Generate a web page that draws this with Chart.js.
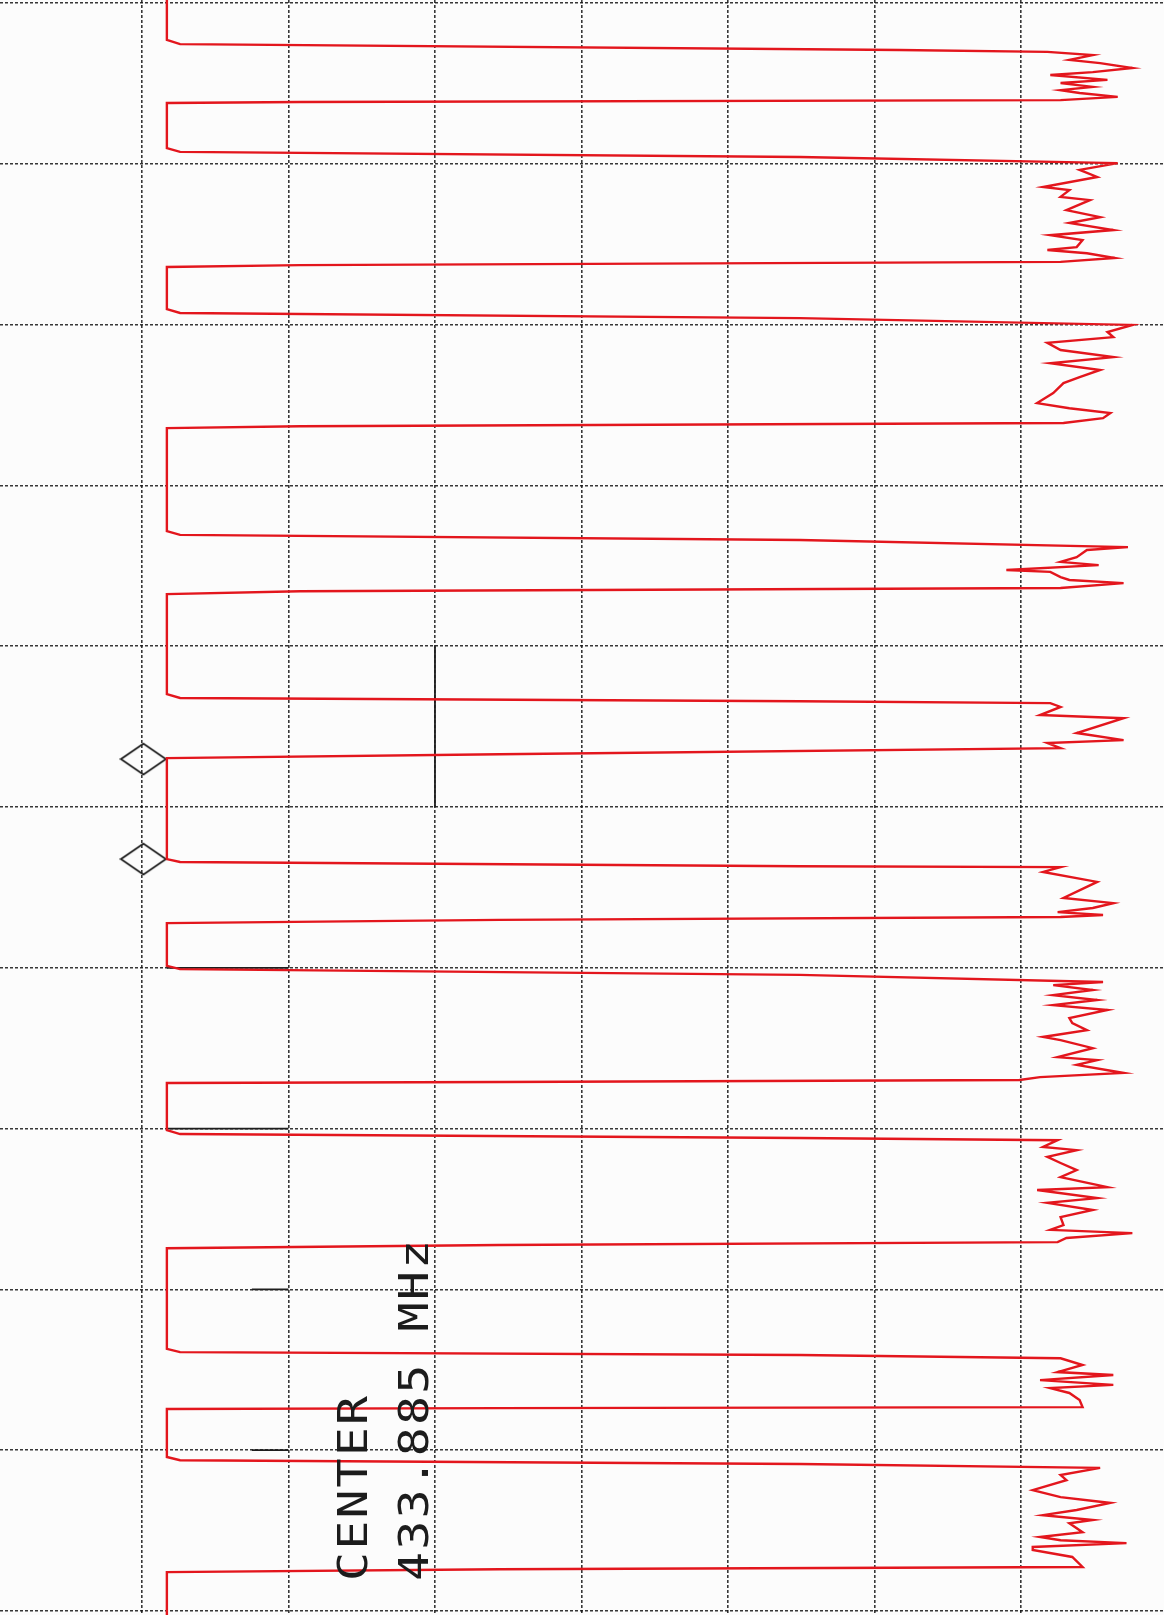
<!DOCTYPE html>
<html>
<head>
<meta charset="utf-8">
<script src="https://cdn.jsdelivr.net/npm/chart.js@4.4.1/dist/chart.umd.min.js"></script>
<style>
html,body{margin:0;padding:0;background:#fcfcfc;}
#wrap{width:1164px;height:1615px;position:relative;}
</style>
</head>
<body>
<div id="wrap"><canvas id="c"></canvas></div>
<script>
// Zero-span trace: time (ms, 50 ms/div) and level (dB, 10 dB/div)
const traceTime = [
  -1, 11.5, 12.8, 14.6, 15.2,
  16.2, 17.7, 18.7, 20.2, 21.5, 22.4, 23.9, 24.9, 26.1, 27.1, 28.0, 29.2, 30.2,
  30.8, 31.1, 45.1, 46.3, 47.9, 49.8,
  51.9, 54.1, 57.2, 58.2, 60.3, 61.3, 64.4, 66.6, 68.4, 70.6, 72.2, 73.7, 75.9, 76.8, 77.8, 79.3, 80.5,
  81.5, 82.1, 95.2, 96.4, 98.0, 100.1,
  102.3, 103.9, 105.7, 107.9, 110.1, 112.0, 114.1, 116.3, 118.2, 121.3, 124.4, 126.0, 127.5, 129.1, 130.6,
  131.6, 132.2, 164.2, 165.4, 167.0, 169.2,
  170.1, 172.3, 173.8, 174.8, 176.3, 176.9, 178.5, 179.4, 180.4, 181.9,
  182.9, 183.8, 214.9, 216.1, 217.1, 217.7,
  218.9, 221.4, 222.4, 227.0, 229.2, 230.1, 231.7,
  233.6, 234.8, 266.2, 267.1, 268.4, 268.7,
  270.2, 273.3, 278.3, 279.9, 281.4, 282.7, 283.6, 284.2,
  285.1, 286.1, 299.4, 300.4, 302.2, 304.4,
  305.4, 306.9, 308.5, 310.0, 311.6, 313.1, 315.6, 317.2, 319.4, 321.5, 322.5, 325.0, 327.8, 328.7, 330.2, 332.7, 334.0,
  334.9, 335.5, 335.8, 350.5, 351.7, 352.9, 353.6,
  355.7, 356.7, 358.8, 360.7, 362.9, 365.1, 368.2, 369.1, 371.6, 373.1, 375.3, 377.5, 380.0, 381.5, 382.5, 384.0, 385.3,
  386.2, 387.2, 418.5, 419.5, 420.4, 421.4,
  423.5, 425.7, 426.6, 428.2, 429.7, 430.7, 432.2, 434.4, 436.6,
  436.9, 437.2, 452.1, 453.1, 454.3, 455.5,
  457.7, 459.3, 462.4, 464.6, 466.4, 468.6, 470.2, 471.7, 472.7, 475.5, 477.0, 478.0, 478.9, 480.1, 481.0, 483.2, 486.3,
  487.0, 487.9, 502
];
const traceLevel = [
  -1.7, -1.7, -2.6, -51.7, -61.8,
  -64.9, -63.3, -65.4, -67.6, -64.9, -62.0, -65.9, -62.7, -64.9, -62.7, -64.0, -66.6, -62.7,
  -10.8, -1.7, -1.7, -2.6, -44.9, -66.6,
  -64.0, -65.2, -61.5, -63.3, -62.7, -64.7, -63.1, -65.4, -63.3, -66.3, -62.0, -64.2, -63.8, -61.8, -64.5, -66.4, -62.7,
  -10.8, -1.7, -1.7, -2.6, -44.9, -67.6,
  -65.9, -66.3, -61.8, -62.7, -66.3, -62.0, -65.4, -64.0, -62.9, -62.2, -61.1, -63.3, -66.1, -65.6, -62.9,
  -10.8, -1.7, -1.7, -2.6, -44.9, -67.3,
  -64.5, -63.8, -62.7, -65.3, -59.0, -62.0, -62.7, -63.3, -67.0, -62.7,
  -10.8, -1.7, -1.7, -2.6, -44.9, -62.0,
  -62.7, -61.3, -67.0, -63.8, -67.0, -61.8, -62.7,
  -24.4, -1.7, -1.7, -2.6, -44.9, -62.7,
  -61.5, -65.2, -62.9, -66.3, -64.9, -62.5, -65.6, -62.7,
  -24.4, -1.7, -1.7, -2.6, -44.9, -65.6,
  -62.2, -64.9, -62.2, -65.2, -62.2, -65.9, -63.3, -63.5, -64.5, -61.5, -62.7, -64.9, -62.5, -65.2, -63.8, -67.0, -61.3,
  -59.9, -24.4, -1.7, -1.7, -2.6, -44.9, -62.5,
  -61.5, -63.8, -61.8, -62.7, -63.8, -62.7, -65.9, -61.1, -65.2, -61.8, -64.9, -62.7, -62.9, -62.0, -67.6, -63.1, -62.5,
  -24.4, -1.7, -1.7, -2.6, -44.9, -62.7,
  -64.2, -62.5, -66.3, -61.3, -66.3, -62.0, -63.3, -64.0, -64.2,
  -24.4, -1.7, -1.7, -2.6, -44.9, -65.4,
  -62.7, -63.1, -60.8, -62.7, -66.1, -63.8, -61.5, -64.9, -63.3, -64.2, -61.3, -62.7, -67.2, -60.8, -60.8, -63.5, -64.2,
  -24.4, -1.7, -1.7
];
// Markers (diamonds)
const markerTime = [235.1, 266.2];
const markerLevel = [-0.1, -0.1];
// Solid black pen strokes left on the graticule (null = pen up)
const penTime  = [200, 250, null, 300, 300, null, 350, 350, null, 400, 400, null, 450, 450];
const penLevel = [-20, -20, null, -1.7, -10, null, -1.7, -10, null, -7.5, -10, null, -7.5, -10];
// Graticule
const levelTicks = [0, -10, -20, -30, -40, -50, -60];
const timeTicks = [0, 50, 100, 150, 200, 250, 300, 350, 400, 450, 500];
const annotationLines = ["CENTER", "433.885 MHz"];

const tracePts = traceTime.map((t, i) => ({x: traceLevel[i], y: t}));
const markerPts = markerTime.map((t, i) => ({x: markerLevel[i], y: t}));
const penPts = penTime.map((t, i) => ({x: penLevel[i], y: t}));

// diamond marker image
const dia = document.createElement('canvas');
dia.width = 48; dia.height = 34;
(function(){
  const g = dia.getContext('2d');
  g.strokeStyle = '#1a1a1a'; g.lineWidth = 1.8;
  g.beginPath(); g.moveTo(1.5,17); g.lineTo(24,1.5); g.lineTo(46.5,17); g.lineTo(24,32.5); g.closePath(); g.stroke();
})();

const textPlugin = {
  id: 'centerText',
  afterDraw(chart) {
    const ctx = chart.ctx;
    const rows = [{txt: annotationLines[0], base: 367}, {txt: annotationLines[1], base: 428}];
    ctx.save();
    ctx.fillStyle = '#1c1c1c';
    ctx.font = '41px "DejaVu Sans Mono"';
    ctx.textBaseline = 'alphabetic';
    rows.forEach(r => {
      ctx.save();
      ctx.translate(r.base, 1581);
      ctx.rotate(-Math.PI / 2);
      for (let i = 0; i < r.txt.length; i++) {
        ctx.save();
        ctx.translate(i * 31.2, 0);
        ctx.scale(1.18, 1);
        ctx.fillText(r.txt[i], 0, 0);
        ctx.restore();
      }
      ctx.restore();
    });
    ctx.restore();
  }
};

const gridStyle = {color: 'rgba(20,20,20,0.85)', lineWidth: 1.6, drawTicks: false};
const borderStyle = {display: false, dash: [3, 2]};

new Chart(document.getElementById('c'), {
  type: 'scatter',
  data: {
    datasets: [
      {
        data: penPts, showLine: true, borderColor: '#1e1e1e', borderWidth: 1.8,
        pointRadius: 0, tension: 0, spanGaps: false, order: 3
      },
      {
        data: tracePts, showLine: true, borderColor: '#e3161d', borderWidth: 2.4,
        pointRadius: 0, tension: 0, fill: false, order: 1
      },
      {
        data: markerPts, showLine: false, pointStyle: dia, pointRadius: 20, order: 2
      }
    ]
  },
  options: {
    responsive: true, maintainAspectRatio: false, animation: false,
    layout: {padding: 0, autoPadding: false},
    plugins: {legend: {display: false}, tooltip: {enabled: false}},
    scales: {
      x: {
        type: 'linear', reverse: true, min: -69.76, max: 9.69,
        afterBuildTicks: (a) => { a.ticks = levelTicks.map(v => ({value: v})); },
        ticks: {display: false}, grid: gridStyle, border: borderStyle
      },
      y: {
        type: 'linear', reverse: true, min: -0.93, max: 501.24,
        afterBuildTicks: (a) => { a.ticks = timeTicks.map(v => ({value: v})); },
        ticks: {display: false}, grid: gridStyle, border: borderStyle
      }
    }
  },
  plugins: [textPlugin]
});
</script>
</body>
</html>
